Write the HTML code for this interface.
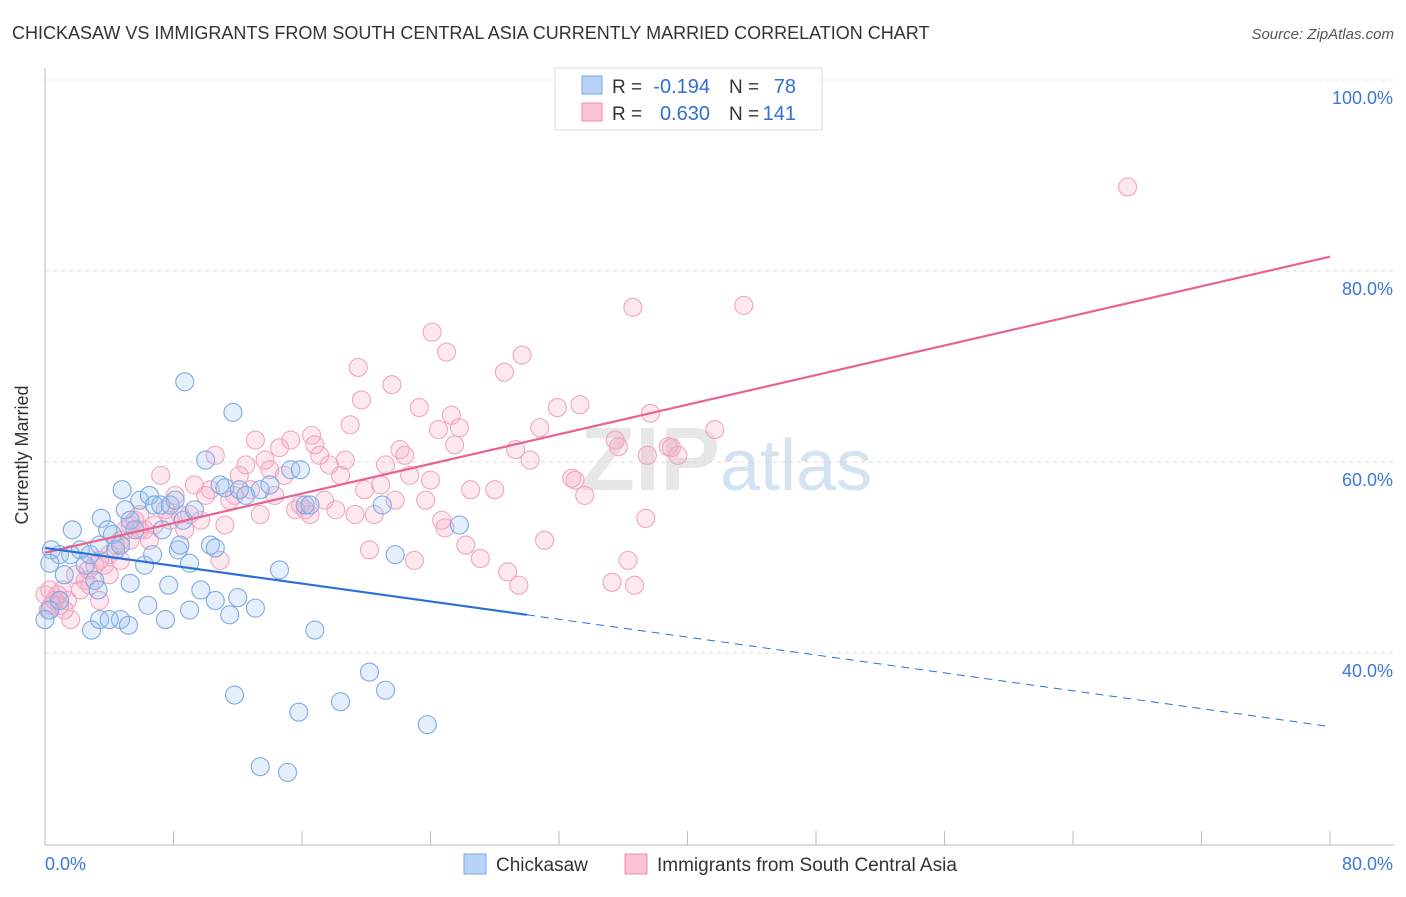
<!DOCTYPE html>
<html><head><meta charset="utf-8">
<style>
body{margin:0;background:#fff;font-family:"Liberation Sans",sans-serif;}
svg text{font-family:"Liberation Sans",sans-serif;}
</style></head>
<body>
<svg id="chart" width="1406" height="892" xmlns="http://www.w3.org/2000/svg">
<text x="12" y="39" font-size="18" fill="#333">CHICKASAW VS IMMIGRANTS FROM SOUTH CENTRAL ASIA CURRENTLY MARRIED CORRELATION CHART</text>
<text x="1394" y="39" font-size="15" fill="#555" font-style="italic" text-anchor="end">Source: ZipAtlas.com</text>
<g id="grid"></g>
<text x="720" y="490" font-size="90" font-weight="bold" fill="#d8d8d8" text-anchor="end" opacity="0.6">ZIP</text>
<text x="720" y="490" font-size="72" fill="#b9cfe8" opacity="0.6">atlas</text>
<g id="pts"></g>
<g id="lines"></g>
<text x="28" y="455" font-size="18" fill="#333" text-anchor="middle" transform="rotate(-90 28 455)">Currently Married</text>
<g>
<rect x="555" y="68" width="267" height="62" fill="#fff" stroke="#ddd"/>
<rect x="582" y="76" width="20" height="18" fill="#b8d3f5" stroke="#7aa8e6"/>
<rect x="582" y="103" width="20" height="18" fill="#f9c3d4" stroke="#ee8fb0"/>
<text x="612" y="93" font-size="19" fill="#333">R =</text>
<text x="710" y="93" font-size="20" fill="#2f6fd6" text-anchor="end">-0.194</text>
<text x="729" y="93" font-size="19" fill="#333">N =</text>
<text x="796" y="93" font-size="20" fill="#2f6fd6" text-anchor="end">78</text>
<text x="612" y="120" font-size="19" fill="#333">R =</text>
<text x="710" y="120" font-size="20" fill="#2f6fd6" text-anchor="end">0.630</text>
<text x="729" y="120" font-size="19" fill="#333">N =</text>
<text x="796" y="120" font-size="20" fill="#2f6fd6" text-anchor="end">141</text>
</g>
<g>
<rect x="464" y="854" width="22" height="20" fill="#b8d3f5" stroke="#7aa8e6"/>
<text x="496" y="871" font-size="19" fill="#333">Chickasaw</text>
<rect x="625" y="854" width="22" height="20" fill="#f9c3d4" stroke="#ee8fb0"/>
<text x="657" y="871" font-size="19" fill="#333">Immigrants from South Central Asia</text>
</g>
</svg>
<script>
const yTicks=[100,80,60,40];
const yTickLabels=["100.0%","80.0%","60.0%","40.0%"];
const xTickVals=[0,8,16,24,32,40,48,56,64,72,80];
const blueX=[0.4,0.9,0.3,1.6,1.2,1.7,2.2,2.5,2.8,3.1,3.3,3.4,3.5,3.9,4.2,4.4,4.7,4.8,5.0,5.3,5.6,5.9,6.2,6.5,6.7,6.8,7.2,7.3,7.8,8.1,8.3,8.4,8.6,8.7,9.0,9.3,9.7,10.0,10.3,10.6,10.9,11.2,11.7,12.1,12.5,13.4,14.0,15.3,15.9,16.2,16.5,21.0,21.8,25.8,14.6,3.4,4.7,5.2,6.4,7.5,9.0,10.6,11.5,12.0,13.1,2.9,4.0,5.3,7.7,11.8,15.8,18.4,20.2,21.2,23.8,13.4,15.1,16.8,0.3,0,0.9];
const blueY=[50.8,50.3,49.4,50.3,48.2,52.9,50.8,49.2,50.3,47.6,46.6,51.3,54.1,52.9,52.4,50.8,51.3,57.1,55.0,53.9,52.9,56.0,49.2,56.5,50.3,55.5,55.5,52.9,55.5,56.0,50.8,51.3,53.9,68.4,49.4,55.0,46.6,60.2,51.3,51.0,57.6,57.3,65.2,57.1,56.5,57.1,57.6,59.2,59.2,55.5,55.5,55.5,50.3,53.4,48.7,43.5,43.5,42.9,45.0,43.5,44.5,45.5,44.0,45.8,44.7,42.4,43.5,47.3,47.1,35.6,33.8,34.9,38.0,36.1,32.5,28.1,27.5,42.4,44.5,43.5,45.5];
const pinkX=[0.3,0.6,0.9,1.2,1.6,1.9,2.2,2.5,2.8,3.1,3.4,3.7,4.0,4.4,4.7,5.0,5.3,5.6,5.9,6.2,6.5,6.8,7.2,7.5,7.8,8.1,8.4,8.7,9.0,9.3,9.7,10.0,10.3,10.6,10.9,11.2,11.5,11.8,12.1,12.5,12.8,13.1,13.4,13.7,14.0,14.3,14.6,14.9,15.3,15.6,15.9,16.2,16.5,16.6,16.8,17.1,17.4,17.7,18.1,18.4,18.7,19.0,19.3,19.5,19.7,19.9,20.2,20.5,20.9,21.2,21.6,21.8,22.1,22.4,22.7,23.0,23.3,23.7,24.0,24.1,24.5,24.7,24.9,25.0,25.3,25.5,25.8,26.2,26.5,27.1,28.0,28.6,28.8,29.3,29.5,29.7,30.2,30.8,31.1,31.9,32.8,33.0,33.3,33.6,35.3,35.5,35.7,36.3,36.6,36.7,37.4,37.5,37.7,38.8,39.0,39.4,41.7,43.5,67.4,0,0.4,0.8,1.4,0.2,1.1,3.4,4.0,2.7,5.9,5.3,4.7];
const pinkY=[46.6,45.5,45.0,44.5,43.5,48.2,46.6,47.6,47.1,49.2,49.7,49.2,50.3,51.3,51.8,52.9,53.4,53.9,54.5,52.9,51.8,53.4,58.6,55.0,53.9,56.5,54.5,52.9,54.5,57.6,53.9,56.5,57.1,60.7,49.7,53.4,56.0,56.5,58.6,59.7,57.1,62.3,54.5,60.2,59.2,56.5,61.5,58.6,62.3,55.0,55.5,55.0,54.5,62.8,61.8,60.7,56.0,59.7,55.0,58.6,60.2,63.9,54.5,69.9,66.5,57.1,50.8,54.5,57.6,59.7,68.1,56.0,61.3,60.7,58.6,49.7,65.7,56.0,58.1,73.6,63.4,53.9,53.1,71.5,64.9,61.8,63.6,51.3,57.1,49.9,57.1,69.4,48.5,61.3,47.1,71.2,60.2,63.6,51.8,65.7,58.3,58.1,66.0,56.5,47.4,62.3,61.6,49.7,76.2,47.1,54.1,60.7,65.1,61.6,61.5,60.7,63.4,76.4,88.8,46.1,45.0,46.1,45.5,44.5,46.6,45.5,48.2,48.7,52.9,51.8,49.7];
const blueTrend=[[0,51.0],[30,44.0],[80,32.3]];
const pinkTrend=[[0,50.5],[80,81.5]];

const NS="http://www.w3.org/2000/svg";
const X=v=>45+v*(1285/80);
const Y=v=>80+(100-v)*9.55;
function mk(tag,attrs,parent){const e=document.createElementNS(NS,tag);for(const k in attrs)e.setAttribute(k,attrs[k]);parent.appendChild(e);return e;}
const grid=document.getElementById('grid');
yTicks.forEach((t,i)=>{
  const l=mk('line',{x1:45,x2:1394,y1:Y(t),y2:Y(t),stroke:'#ddd','stroke-dasharray':'4,4'},grid);
  
  
  const tx=mk('text',{x:1393,y:Y(t)+24,'font-size':18,fill:'#3b78d8','text-anchor':'end'},grid);
  tx.textContent=yTickLabels[i];
  
  
});
const ax=mk('line',{x1:45,x2:1394,y1:845,y2:845,stroke:'#bbb'},grid);


const ay=mk('line',{x1:45,x2:45,y1:68,y2:845,stroke:'#bbb'},grid);


xTickVals.forEach(t=>{
  const l=mk('line',{x1:X(t),x2:X(t),y1:831,y2:845,stroke:'#bbb'},grid);
  
  
});
const xl0=mk('text',{x:45,y:870,'font-size':18,fill:'#3b78d8'},grid);
xl0.textContent='0.0%';


const xl1=mk('text',{x:1393,y:870,'font-size':18,fill:'#3b78d8','text-anchor':'end'},grid);
xl1.textContent='80.0%';



const pts=document.getElementById('pts');
pinkX.forEach((x,i)=>{
  const c=mk('circle',{cx:X(x),cy:Y(pinkY[i]),r:9,fill:'rgba(246,165,195,0.25)',stroke:'#f0a6c0','stroke-width':1.1},pts);
  
  
});
blueX.forEach((x,i)=>{
  const c=mk('circle',{cx:X(x),cy:Y(blueY[i]),r:9,fill:'rgba(150,190,240,0.25)',stroke:'#7eaae3','stroke-width':1.1},pts);
  
  
});
const lines=document.getElementById('lines');
const pl=mk('line',{x1:X(pinkTrend[0][0]),y1:Y(pinkTrend[0][1]),x2:X(pinkTrend[1][0]),y2:Y(pinkTrend[1][1]),stroke:'#e8648f','stroke-width':2.2},lines);


const bl=mk('line',{x1:X(blueTrend[0][0]),y1:Y(blueTrend[0][1]),x2:X(blueTrend[1][0]),y2:Y(blueTrend[1][1]),stroke:'#2a6fd8','stroke-width':2.2},lines);


const bd=mk('line',{x1:X(blueTrend[1][0]),y1:Y(blueTrend[1][1]),x2:X(blueTrend[2][0]),y2:Y(blueTrend[2][1]),stroke:'#2a6fd8','stroke-width':1,'stroke-dasharray':'8,6'},lines);


</script>
</body></html>
